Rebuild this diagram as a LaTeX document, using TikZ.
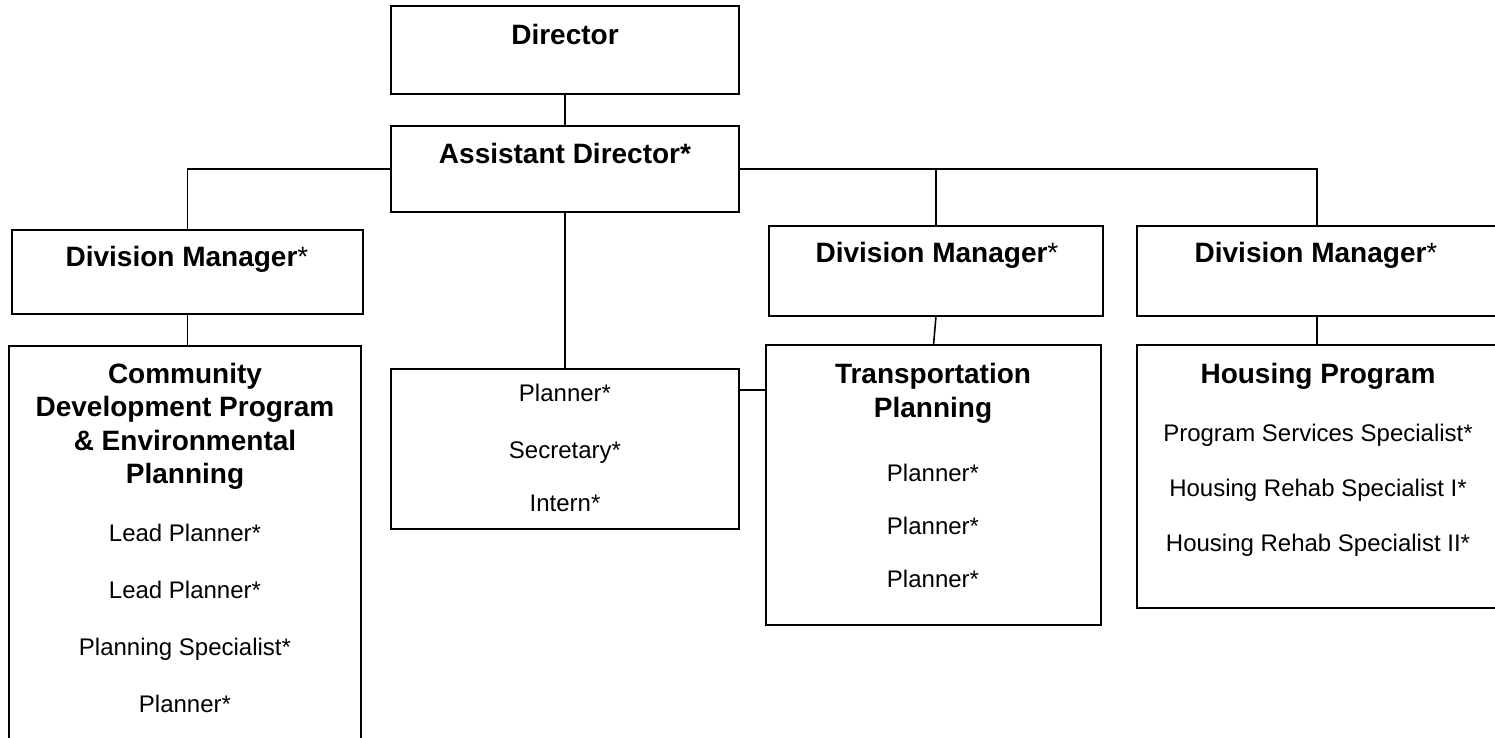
\documentclass[tikz,border=0pt]{standalone}
\usepackage{fontspec}
\setmainfont{Liberation Sans}
\begin{document}
\begin{tikzpicture}[x=1pt,y=-1pt,
  box/.style={draw=black, line width=2.2pt, inner sep=0pt, outer sep=0pt, rectangle},
  conn/.style={draw=black, line width=1.6pt},
  hd/.style={font=\fontsize{28}{33.6}\selectfont\bfseries, anchor=base, inner sep=0pt},
  rg/.style={font=\fontsize{24}{28.8}\selectfont, anchor=base, inner sep=0pt}]
\useasboundingbox (0,0) rectangle (1495,737);
\clip (0,0) rectangle (1495,737);
% boxes
\node[box, minimum width=348pt, minimum height=88pt] (dir) at (565,50) {};
\node[box, minimum width=348pt, minimum height=86pt] (ad) at (565,169) {};
\node[box, minimum width=351pt, minimum height=84pt] (ldm) at (187.5,272) {};
\node[box, minimum width=334pt, minimum height=90pt] (mdm) at (936,271) {};
\node[box, minimum width=360pt, minimum height=90pt] (rdm) at (1317,271) {};
\node[box, minimum width=352pt, minimum height=414pt] (cd) at (185,553) {};
\node[box, minimum width=348pt, minimum height=160pt] (pl) at (565,449) {};
\node[box, minimum width=335pt, minimum height=280pt] (tr) at (933.5,485) {};
\node[box, minimum width=360pt, minimum height=263pt] (hs) at (1317,476.5) {};
% connectors
\draw[conn] (dir.south) -- (ad.north);
\draw[conn] (ad.west) -| (ldm.north);
\draw[conn] (ad.east) -| (rdm.north);
\draw[conn] (mdm.north) -- (mdm.north |- ad.east);
\draw[conn] (ad.south) -- (pl.north);
\draw[conn] (ldm.south) -- (ldm.south |- cd.north);
\draw[conn] (mdm.south) -- (tr.north);
\draw[conn] (rdm.south) -- (hs.north);
\draw[conn] ([yshift=-21pt]pl.north east) -- ([yshift=-21pt]pl.north east -| tr.west);
% titles
\node[hd] (tdir) at (565,44) {Director};
\node[hd] (tad) at (565,163) {Assistant Director*};
\node[hd] (tldm) at (187,266) {Division Manager{\mdseries*}};
\node[hd] (tmdm) at (937,262) {Division Manager{\mdseries*}};
\node[hd] (trdm) at (1316,262) {Division Manager{\mdseries*}};
% community development
\node[hd] (cdh1) at (185,383) {Community};
\node[hd] (cdh2) at (185,416.5) {Development Program};
\node[hd] (cdh3) at (185,450) {\& Environmental};
\node[hd] (cdh4) at (185,483.5) {Planning};
\node[rg] (cdi1) at (185,541) {Lead Planner*};
\node[rg] (cdi2) at (185,598) {Lead Planner*};
\node[rg] (cdi3) at (185,655) {Planning Specialist*};
\node[rg] (cdi4) at (185,712) {Planner*};
% planner box
\node[rg] (pli1) at (565,401) {Planner*};
\node[rg] (pli2) at (565,458) {Secretary*};
\node[rg] (pli3) at (565,511) {Intern*};
% transportation
\node[hd] (trh1) at (933,383) {Transportation};
\node[hd] (trh2) at (933,417) {Planning};
\node[rg] (tri1) at (933,481) {Planner*};
\node[rg] (tri2) at (933,534) {Planner*};
\node[rg] (tri3) at (933,587) {Planner*};
% housing
\node[hd] (hsh1) at (1318,383) {Housing Program};
\node[rg] (hsi1) at (1318,441) {Program Services Specialist*};
\node[rg] (hsi2) at (1318,496) {Housing Rehab Specialist I*};
\node[rg] (hsi3) at (1318,551) {Housing Rehab Specialist II*};
\end{tikzpicture}
\end{document}
